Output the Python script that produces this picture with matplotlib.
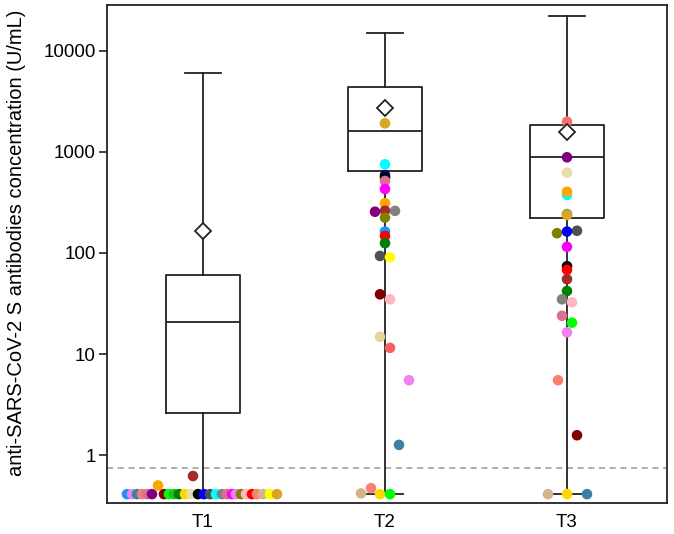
import numpy as np
import matplotlib
matplotlib.use("Agg")
import matplotlib.pyplot as plt

plt.rcParams['font.family'] = ['Liberation Sans', 'DejaVu Sans']

groups = ["T1", "T2", "T3"]

# box statistics (U/mL)
q1s = [2.6, 653, 222]
medians = [20.7, 1615, 887]
q3s = [60.5, 4370, 1850]
whis_lo = [0.41, 0.41, 0.41]
whis_hi = [6100, 14970, 22200]
means = [165, 2745, 1578]
lod = 0.75

# individual subjects
t1_vals = [0.41, 0.41, 0.41, 0.41, 0.41, 0.41, 0.50, 0.41, 0.41, 0.41, 0.41, 0.41, 0.41, 0.62, 0.41,
           0.41, 0.41, 0.41, 0.41, 0.41, 0.41, 0.41, 0.41, 0.41, 0.41, 0.41, 0.41, 0.41, 0.41]
t1_cols = ["#1E90FF", "#EE82EE", "#3F7FA3", "#F08080", "#DB7093", "#800080", "#FFA500", "#800000",
           "#00FF00", "#22C022", "#008000", "#FFD700", "#E8DCA8", "#A52A2A", "#000000",
           "#0000FF", "#505050", "#00FFFF", "#808080", "#DB7093", "#FF00FF", "#EE82EE", "#808000",
           "#FFB6C1", "#FF0000", "#FA8072", "#D2B48C", "#FFFF00", "#DAA520"]
t1_dx = [-76, -71, -66, -61, -56, -51, -45, -39, -34, -29, -24, -18, -12, -10, -5,
         1, 7, 13, 19, 24, 29, 33, 38, 43, 49, 54, 60, 67, 74]

t2_vals = [1920, 755, 590, 557, 516, 430, 311, 262, 256, 261, 224, 163, 147, 125, 93.5, 90.6,
           39, 34.8, 14.8, 11.5, 5.5, 1.26, 0.47, 0.417, 0.41, 0.41]
t2_cols = ["#DAA520", "#00FFFF", "#000080", "#000000", "#DB7093", "#FF00FF", "#FFA500", "#A52A2A",
           "#800080", "#808080", "#808000", "#1E90FF", "#FF0000", "#008000", "#505050", "#FFFF00",
           "#800000", "#FFB6C1", "#E5D49A", "#F76060", "#EE82EE", "#3F7FA3", "#FA8072", "#D2B48C",
           "#FFD700", "#00FF00"]
t2_dx = [0, 0, 0, 0, 0, 0, 0, 0, -10, 10, 0, 0, 0, 0, -5, 5,
         -5, 5, -5, 5, 24, 14, -14, -24, -5, 5]

t3_vals = [1995, 886, 624, 375, 404, 245, 242, 238, 157, 166, 163, 115, 74, 68, 55, 42,
           34.8, 32.5, 23.9, 20.4, 16.4, 5.5, 1.57, 0.41, 0.41, 0.41]
t3_cols = ["#F87070", "#800080", "#E8DCA8", "#00FFFF", "#FFA500", "#FFFF00", "#1E90FF", "#DAA520",
           "#808000", "#505050", "#0000FF", "#FF00FF", "#000000", "#FF0000", "#A52A2A", "#008000",
           "#808080", "#FFB6C1", "#DB7093", "#00FF00", "#EE82EE", "#FA8072", "#800000", "#D2B48C",
           "#FFD700", "#3F7FA3"]
t3_dx = [0, 0, 0, 0, 0, 0, 0, 0, -10, 10, 0, 0, 0, 0, 0, 0,
         -5, 5, -5, 5, 0, -9, 10, -19, 0, 20]

fig = plt.figure(figsize=(6.74, 5.34), dpi=100)
ax = fig.add_axes([107/674, 1-503/534, 560/674, 498/534])

stats = []
for i in range(3):
    stats.append(dict(label=groups[i], q1=q1s[i], med=medians[i], q3=q3s[i],
                      whislo=whis_lo[i], whishi=whis_hi[i], mean=means[i], fliers=[]))

lc = "#222222"
ax.bxp(stats, positions=[1, 2, 3], widths=0.41, showmeans=True, showfliers=False,
       boxprops=dict(color=lc, linewidth=1.3),
       whiskerprops=dict(color=lc, linewidth=1.3),
       capprops=dict(color=lc, linewidth=1.3),
       medianprops=dict(color=lc, linewidth=1.3),
       meanprops=dict(marker="D", markerfacecolor="white", markeredgecolor=lc,
                      markersize=8.5, markeredgewidth=1.3),
       capwidths=0.2, zorder=2)

px = 182.0  # pixels per category unit
for pos, vals, cols, dx in [(1, t1_vals, t1_cols, t1_dx), (2, t2_vals, t2_cols, t2_dx),
                            (3, t3_vals, t3_cols, t3_dx)]:
    xs = pos + np.array(dx) / px
    ax.scatter(xs, vals, c=cols, s=58, edgecolors="none", zorder=3)

# mean markers above the points
for ln in ax.lines:
    if ln.get_marker() == "D":
        ln.set_zorder(4)

ax.axhline(lod, color="#999999", linestyle=(0, (4, 3)), linewidth=1.1, zorder=1)

ax.set_yscale("log")
ax.set_ylim(0.335, 28500)
ax.set_xlim(1 - 96/px, 3 + 100/px)
ax.set_yticks([1, 10, 100, 1000, 10000])
ax.set_yticklabels(["1", "10", "100", "1000", "10000"])
ax.yaxis.set_minor_locator(matplotlib.ticker.NullLocator())
ax.set_xticks([1, 2, 3])
ax.set_xticklabels(groups)
ax.tick_params(axis="x", length=0, labelsize=13.5, pad=8)
ax.tick_params(axis="y", length=6, width=1.2, labelsize=13.5, color=lc, pad=2)
for sp in ax.spines.values():
    sp.set_color(lc)
    sp.set_linewidth(1.3)
ax.set_ylabel("anti-SARS-CoV-2 S antibodies concentration (U/mL)", fontsize=14.5)
ax.yaxis.set_label_coords(-0.145, 0.522)

fig.savefig("out.png", dpi=100)
